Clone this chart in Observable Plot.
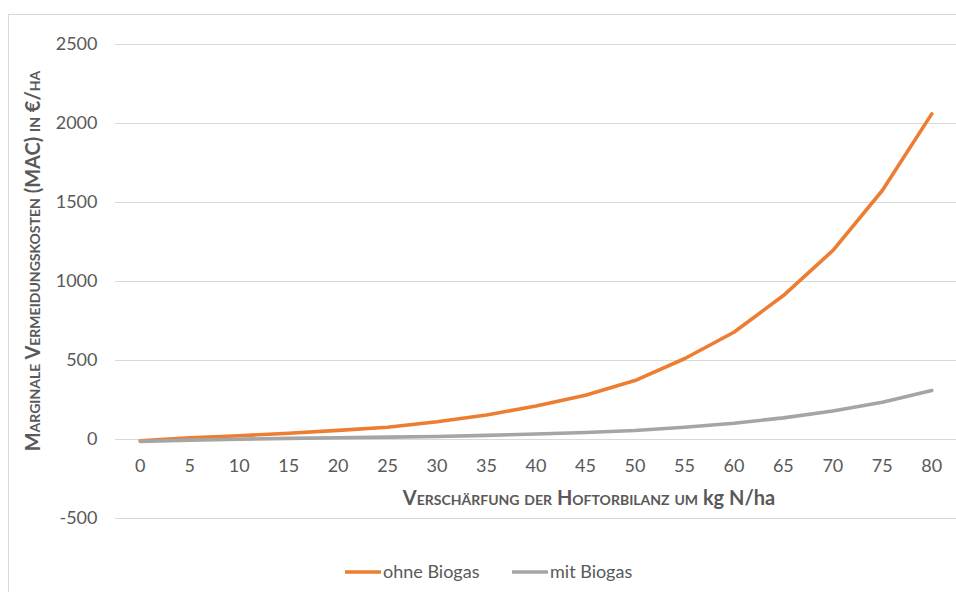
<!DOCTYPE html>
<html>
<head>
<meta charset="utf-8">
<script src="https://cdn.jsdelivr.net/npm/d3@7"></script>
<script src="https://cdn.jsdelivr.net/npm/@observablehq/plot@0.6"></script>
<style>
  html, body { margin: 0; padding: 0; background: #fff; }
  #wrap { position: relative; width: 956px; height: 592px; overflow: hidden; }
  #frame { position: absolute; left: 8px; top: 14px; width: 960px; height: 600px; border: 1px solid #d9d9d9; box-sizing: border-box; }
  #chart { position: absolute; left: 0; top: 0; }
</style>
</head>
<body>
<div id="wrap"><div id="frame"></div><div id="chart"></div></div>
<script>
const xValues = [0, 5, 10, 15, 20, 25, 30, 35, 40, 45, 50, 55, 60, 65, 70, 75, 80];
const ohneBiogas = [-8, 10, 24, 40, 58, 78, 112, 155, 212, 280, 373, 511, 679, 911, 1196, 1576, 2061];
const mitBiogas = [-12, -4, 2, 7, 11, 15, 19, 26, 35, 44, 57, 78, 103, 137, 180, 236, 310];
const yTicks = [-500, 0, 500, 1000, 1500, 2000, 2500];
const seriesNames = ["ohne Biogas", "mit Biogas"];
const seriesColors = ["#ED7D31", "#A5A5A5"];

const data = [
  ...xValues.map((x, i) => ({x, y: ohneBiogas[i], s: seriesNames[0]})),
  ...xValues.map((x, i) => ({x, y: mitBiogas[i], s: seriesNames[1]}))
];

const font = "Lato, 'Open Sans', sans-serif";
const W = 956, H = 592;

const plot = Plot.plot({
  width: W,
  height: H,
  marginLeft: 115,
  marginRight: 0,
  marginTop: 44,
  marginBottom: 74,
  style: {fontFamily: font, fontSize: "17px", color: "#595959", background: "transparent"},
  x: {domain: [-2.5, 82.5], axis: null},
  y: {domain: [-500, 2500], ticks: yTicks, label: null},
  color: {domain: seriesNames, range: seriesColors},
  marks: [
    Plot.gridY(yTicks, {stroke: "#d9d9d9", strokeOpacity: 1, strokeWidth: 1.2}),
    Plot.axisY(yTicks, {tickSize: 0, tickPadding: 18, label: null, fill: "#595959", fontSize: 18, tickFormat: d => String(d).replace("−", "-")}),
    Plot.text(xValues, {x: d => d, y: 0, dy: 27, text: d => String(d), fill: "#595959", fontSize: 18}),
    Plot.line(data, {x: "x", y: "y", stroke: "s", z: "s", strokeWidth: 3.6, strokeLinecap: "round", strokeLinejoin: "round"})
  ]
});

const svg = d3.select(plot);
// Y axis title (small caps)
svg.append("text")
  .attr("transform", "translate(40,261) rotate(-90)")
  .attr("text-anchor", "middle")
  .attr("font-family", font)
  .attr("font-weight", "bold")
  .attr("font-size", 20)
  .attr("fill", "#595959")
  .style("font-variant", "small-caps")
  .text("Marginale Vermeidungskosten (MAC) in €/ha");

// X axis title
const xt = svg.append("text")
  .attr("x", 589).attr("y", 505)
  .attr("text-anchor", "middle")
  .attr("font-family", font)
  .attr("font-weight", "bold")
  .attr("font-size", 20)
  .attr("fill", "#595959");
xt.append("tspan").style("font-variant", "small-caps").text("Verschärfung der Hoftorbilanz um ");
xt.append("tspan").text("kg N/ha");

// Legend
const legendItems = [
  {name: seriesNames[0], color: seriesColors[0], x: 345},
  {name: seriesNames[1], color: seriesColors[1], x: 512}
];
const lg = svg.append("g");
legendItems.forEach(d => {
  lg.append("line").attr("x1", d.x).attr("x2", d.x + 36).attr("y1", 572).attr("y2", 572)
    .attr("stroke", d.color).attr("stroke-width", 3.6);
  lg.append("text").attr("x", d.x + 38).attr("y", 578)
    .attr("text-anchor", "start")
    .attr("font-family", font).attr("font-size", 18).attr("fill", "#595959").text(d.name);
});

document.getElementById("chart").appendChild(plot);
</script>
</body>
</html>
